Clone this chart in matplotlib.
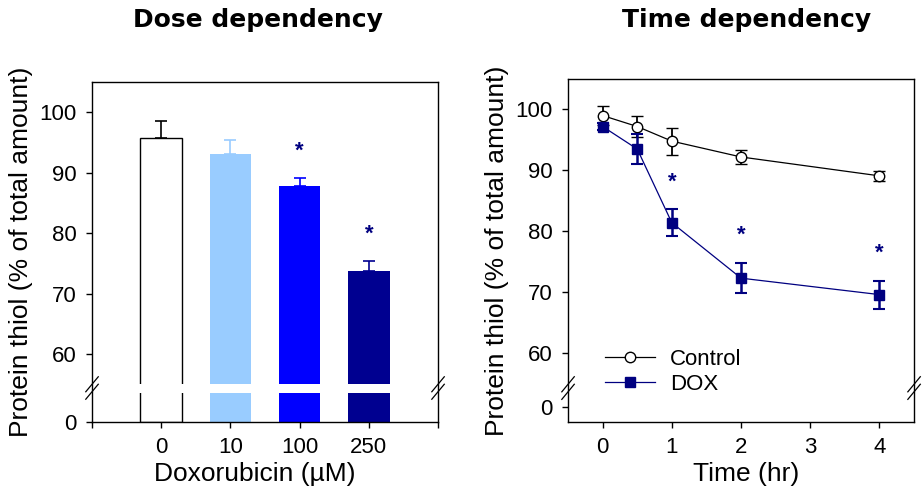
import numpy as np
import matplotlib
matplotlib.use("Agg")
import matplotlib.pyplot as plt
from matplotlib.ticker import FixedLocator

plt.rcParams['font.family'] = ['Liberation Sans', 'DejaVu Sans']

# dose dependency (bar chart)
dose_labels = ['0', '10', '100', '250']
dose_values = [95.7, 93.1, 87.8, 73.7]
dose_err = [2.8, 2.3, 1.3, 1.7]
dose_sig = [False, False, True, True]
dose_colors = ['white', '#99ccff', '#0000ff', '#000090']
dose_err_colors = ['black', '#99ccff', '#0000ff', '#000090']

# time dependency (line chart)
time_hr = [0, 0.5, 1, 2, 4]
control_values = [99.0, 97.2, 94.8, 92.2, 89.1]
control_err = [1.6, 1.7, 2.2, 1.1, 0.8]
dox_values = [97.2, 93.5, 81.4, 72.3, 69.6]
dox_err = [0.6, 2.5, 2.2, 2.5, 2.3]
dox_sig = [False, False, True, True, True]

navy = '#000080'
star_offset = 4.5


def broken_scale(low_top, high_bottom, gap):
    # piecewise linear y scale: [.., low_top] and [high_bottom, ..] kept, middle squeezed
    xp = [-1000, low_top, high_bottom, 1000]
    fp = [-1000, low_top, low_top + gap, low_top + gap + 1000 - high_bottom]
    fwd = lambda v: np.interp(v, xp, fp)
    inv = lambda t: np.interp(t, fp, xp)
    return fwd, inv


def break_marks(ax, yfrac):
    kw = dict(transform=ax.transAxes, color='black', lw=0.9, clip_on=False, zorder=5)
    dx, dy = 0.018, 0.022
    for xs in (0, 1):
        for off in (-0.011, 0.011):
            ax.plot([xs - dx, xs + dx], [yfrac + off - dy, yfrac + off + dy], **kw)


def style(ax):
    for s in ax.spines.values():
        s.set_linewidth(1.0)
    ax.tick_params(direction='out', length=4, width=1, labelsize=16, pad=7)
    ax.yaxis.set_major_locator(FixedLocator([0, 60, 70, 80, 90, 100]))
    ax.set_ylabel('Protein thiol (% of total amount)', fontsize=19, labelpad=5)


fig = plt.figure(figsize=(9.22, 4.97), dpi=100)

# ---- left panel ----
ax1 = fig.add_axes([0.0998, 0.1509, 0.3753, 0.6841])
ax1.set_yscale('function', functions=broken_scale(4.8, 55.04, 1.44))
x = np.arange(len(dose_labels))
ax1.bar(x, dose_values, width=0.6, color=dose_colors,
        edgecolor=['black', 'none', 'none', 'none'], linewidth=1, zorder=1)
for i in range(len(x)):
    ax1.errorbar(x[i], dose_values[i], yerr=[[0], [dose_err[i]]], fmt='none',
                 ecolor=dose_err_colors[i], elinewidth=1.2, capsize=4, capthick=1.2, zorder=1.1)
    if dose_sig[i]:
        ax1.text(x[i], dose_values[i] + dose_err[i] + star_offset, '*', color=navy,
                 ha='center', va='center', fontsize=16, fontweight='bold')
ax1.axhspan(4.8, 55.04, color='white', zorder=1.3, lw=0)
ax1.set_xlim(-1, 4)
ax1.set_ylim(0, 105)
ax1.set_xticks(np.arange(-1, 5))
ax1.set_xticklabels([''] + dose_labels + [''])
ax1.set_xlabel('Doxorubicin (\u00b5M)', fontsize=19, labelpad=3)
ax1.xaxis.label.set_x(0.47)
style(ax1)
break_marks(ax1, 0.1)

# ---- right panel ----
ax2 = fig.add_axes([0.6161, 0.1509, 0.3753, 0.6901])
ax2.set_yscale('function', functions=broken_scale(3.1, 54.3, 0.02))
ax2.errorbar(time_hr, control_values, yerr=control_err, color='black', lw=0.9,
             marker='o', ms=7.5, mfc='white', mec='black', mew=1,
             elinewidth=1.3, capsize=4, capthick=1.3, label='Control', zorder=3)
ax2.errorbar(time_hr, dox_values, yerr=dox_err, color=navy, lw=0.9,
             marker='s', ms=7, mfc=navy, mec=navy,
             elinewidth=1.8, capsize=4, capthick=1.5, label='DOX', zorder=4)
for t, v, e, s in zip(time_hr, dox_values, dox_err, dox_sig):
    if s:
        ax2.text(t, v + e + star_offset, '*', color=navy, ha='center', va='center',
                 fontsize=16, fontweight='bold')
ax2.set_xlim(-0.5, 4.5)
ax2.set_ylim(-2.5, 105)
ax2.set_xticks([0, 1, 2, 3, 4])
ax2.set_xlabel('Time (hr)', fontsize=19, labelpad=3)
ax2.xaxis.label.set_x(0.515)
style(ax2)
break_marks(ax2, 0.099)
handles, labels = ax2.get_legend_handles_labels()
handles = [h[0] for h in handles]
ax2.legend(handles, labels, loc='center left', bbox_to_anchor=(0.107, 0.146),
           frameon=False, fontsize=16, handlelength=2.25, handletextpad=0.68,
           labelspacing=0.15, borderpad=0, borderaxespad=0)

fig.text(258 / 922, 1 - 20 / 497, 'Dose dependency', family='DejaVu Sans',
         fontweight='bold', fontsize=18, ha='center', va='center')
fig.text(747 / 922, 1 - 20 / 497, 'Time dependency', family='DejaVu Sans',
         fontweight='bold', fontsize=18, ha='center', va='center')

fig.savefig('out.png', dpi=100)
